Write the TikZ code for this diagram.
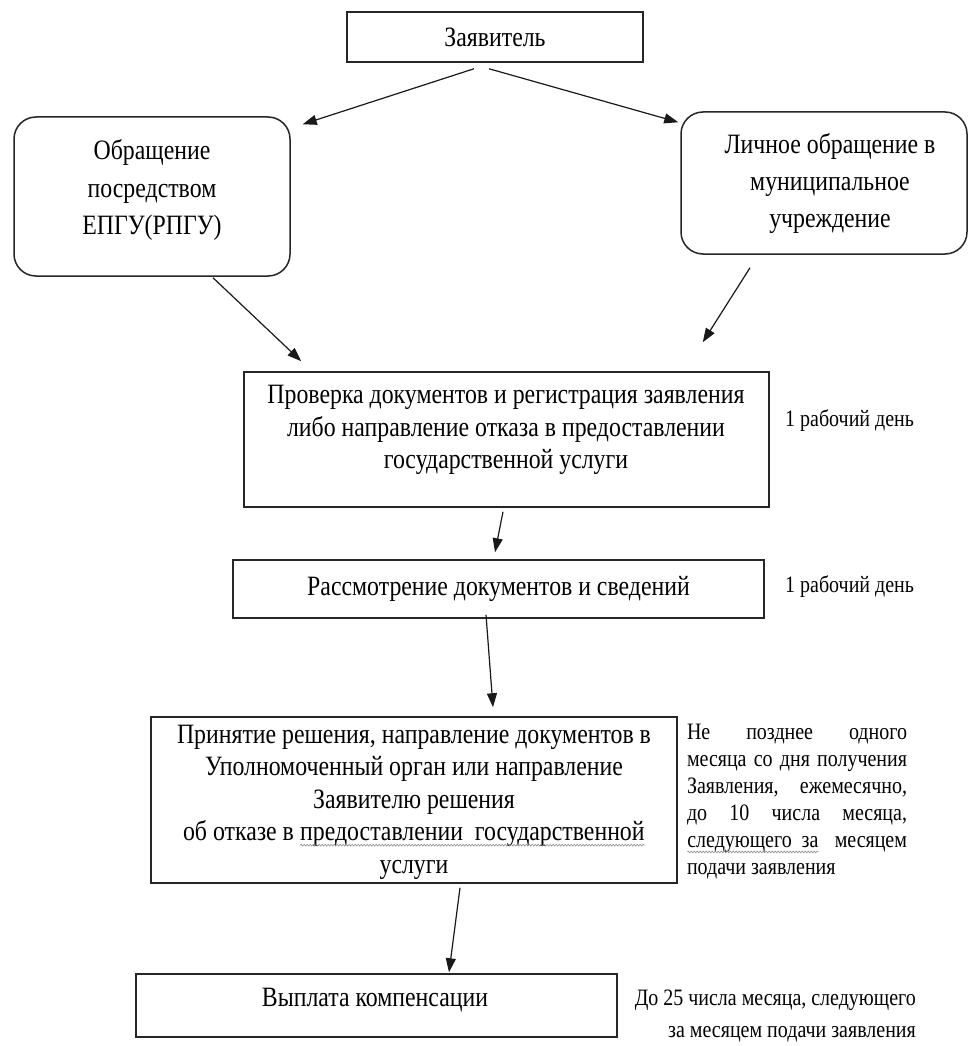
\documentclass[tikz,border=0pt]{standalone}
\usepackage{fontspec}
\setmainfont{Liberation Serif}[FakeStretch=0.85]
\usetikzlibrary{arrows.meta,calc,decorations.pathmorphing}
\newcommand\gwave[1]{\tikz[baseline=(w.base)]{\node[inner sep=0pt, outer sep=0pt, minimum width=0pt, minimum height=0pt, draw=none, fill=none] (w) {#1};\draw[black!45, line width=0.6pt, decorate, decoration={snake, amplitude=0.9pt, segment length=3pt}] ([yshift=-4.5pt]w.base west) -- ([yshift=-4.5pt]w.base east);}}
\begin{document}
\begin{tikzpicture}[x=1pt,y=-1pt,
  box/.style={draw=black!85, line width=1.5pt, inner sep=0pt},
  rbox/.style={box, rounded corners=22pt},
  arr/.style={line width=1.2pt, draw=black!90, -{Triangle[length=14pt,width=10pt]}},
  txt/.style={align=center, inner sep=0pt, font=\fontsize{28}{32.5}\selectfont},
  side/.style={inner sep=0pt, font=\fontsize{23.5}{27}\selectfont}]
\useasboundingbox (0,0) rectangle (971,1046);
\fill[white] (0,0) rectangle (971,1046);

% boxes
\node[box, txt, minimum width=296pt, minimum height=50pt] (zayav) at (495,37) {Заявитель};
\node[rbox, minimum width=276pt, minimum height=159pt] (web) at (152,196.5) {};
\node[txt, font=\fontsize{28}{37.5}\selectfont] (webt) at (152,190) {Обращение\\посредством\\ЕПГУ(РПГУ)};
\node[rbox, minimum width=286pt, minimum height=142pt] (pers) at (824,183) {};
\node[txt, font=\fontsize{28}{37}\selectfont] (perst) at (830,183) {Личное обращение в\\муниципальное\\учреждение};
\node[box, minimum width=525pt, minimum height=135pt] (check) at (506.5,439.5) {};
\node[txt] (checkt) at (506,430) {Проверка документов и регистрация заявления\\либо направление отказа в предоставлении\\государственной услуги};
\node[box, txt, minimum width=531pt, minimum height=58pt] (review) at (498.5,589) {Рассмотрение документов и сведений};
\node[box, minimum width=526pt, minimum height=166pt] (decide) at (414,800) {};
\node[txt] (decidet) at (414,802) {Принятие решения, направление документов в\\Уполномоченный орган или направление\\Заявителю решения\\об отказе в \gwave{предоставлении\ \ государственной}\\услуги};
\node[box, minimum width=481pt, minimum height=63pt] (pay) at (376.5,1005.5) {};
\node[txt] (payt) at (375,1000) {Выплата компенсации};

% side notes
\node[side, anchor=west] (d1) at (785,421) {1 рабочий день};
\node[side, anchor=west] (d2) at (785,587) {1 рабочий день};
\node[side, align=left] (d3) at (797,801.5) {%
\hbox to 220pt{Не\hfill позднее\hfill одного}\\
\hbox to 220pt{месяца\hfill со\hfill дня\hfill получения}\\
\hbox to 220pt{Заявления,\hfill ежемесячно,}\\
\hbox to 220pt{до\hfill 10\hfill числа\hfill месяца,}\\
\hbox to 220pt{\gwave{следующего\ \ за}\hfill месяцем}\\
\hbox to 220pt{подачи заявления\hfill}};
\node[side, font=\fontsize{23.5}{32}\selectfont, align=right, anchor=east] (d4) at (916,1016) {До 25 числа месяца, следующего\\за месяцем подачи заявления};

% connectors
\draw[arr] ($(zayav.south)+(-21,6)$) -- ($(web.north east)+(12,8)$);
\draw[arr] ($(zayav.south)+(-6,6)$) -- ($(pers.north west)+(-2,11)$);
\draw[arr] ($(web.south)+(61,1)$) -- ($(check.north west)+(58,-10)$);
\draw[arr] ($(pers.south)+(-74,13)$) -- ($(check.north east)+(-67,-29)$);
\draw[arr] ($(check.south)+(-3.5,4)$) -- ($(review.north)+(-3.5,-7)$);
\draw[arr] ($(review.south)+(-12.5,-4)$) -- ($(decide.north)+(79,-9)$);
\draw[arr] ($(decide.south)+(46,4)$) -- ($(pay.north)+(72.5,-1)$);
\end{tikzpicture}
\end{document}
